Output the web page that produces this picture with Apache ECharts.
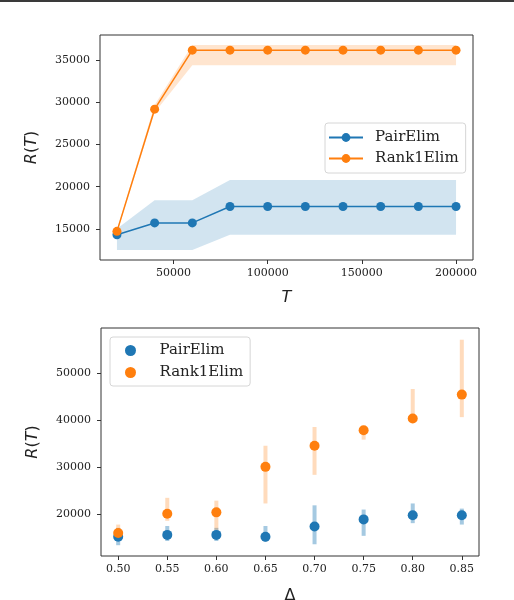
<!DOCTYPE html>
<html>
<head>
<meta charset="utf-8">
<script src="https://cdn.jsdelivr.net/npm/echarts@6/dist/echarts.min.js"></script>
<style>
  html, body { margin: 0; padding: 0; background: #fff; }
  #wrap { position: relative; width: 514px; height: 600px; }
  #topline { position: absolute; left: 0; top: 0; width: 514px; height: 2px; background: #3a3a3a; }
  #chart { position: absolute; left: 0; top: 0; width: 514px; height: 600px; }
</style>
</head>
<body>
<div id="wrap">
  <div id="chart"></div>
  <div id="topline"></div>
</div>
<script>
// 上图：R(T) 随 T 变化
var T = [20000, 40000, 60000, 80000, 100000, 120000, 140000, 160000, 180000, 200000];
var pairMean = [14300, 15700, 15700, 17650, 17650, 17650, 17650, 17650, 17650, 17650];
var pairLow = [12500, 12500, 12500, 14300, 14300, 14300, 14300, 14300, 14300, 14300];
var pairHigh = [15000, 18400, 18400, 20800, 20800, 20800, 20800, 20800, 20800, 20800];
var rankMean = [14700, 29200, 36200, 36200, 36200, 36200, 36200, 36200, 36200, 36200];
var rankLow = [14500, 28800, 34400, 34400, 34400, 34400, 34400, 34400, 34400, 34400];
var rankHigh = [14900, 29700, 36800, 36800, 36800, 36800, 36800, 36800, 36800, 36800];
var xTicks1 = [50000, 100000, 150000, 200000];
var yTicks1 = [15000, 20000, 25000, 30000, 35000];

// 下图：R(T) 随 Δ 变化
var delta = [0.50, 0.55, 0.60, 0.65, 0.70, 0.75, 0.80, 0.85];
var pairMean2 = [15100, 15500, 15500, 15100, 17300, 18800, 19700, 19700];
var pairLo2 = [13300, 14200, 14200, 14000, 13500, 15300, 18000, 17700];
var pairHi2 = [17000, 17400, 17000, 17400, 21800, 20900, 22200, 21100];
var rankMean2 = [15900, 20000, 20300, 30000, 34500, 37800, 40300, 45400];
var rankLo2 = [14500, 18500, 16600, 22200, 28300, 35800, 39800, 40600];
var rankHi2 = [17700, 23400, 22800, 34500, 38500, 38400, 46600, 57100];
var xTicks2 = [0.50, 0.55, 0.60, 0.65, 0.70, 0.75, 0.80, 0.85];
var yTicks2 = [20000, 30000, 40000, 50000];

var names = ['PairElim', 'Rank1Elim'];
var blue = '#1f77b4';
var orange = '#ff7f0e';
var serif = 'DejaVu Serif';

var zip = function(xs, ys) {
	return xs.map(function(x, i) { return [x, ys[i]]; });
};

// 阴影带（一个多边形）
var bandSeries = function(xs, lo, hi, color) {
	return {
		type: 'custom',
		xAxisIndex: 0,
		yAxisIndex: 0,
		silent: true,
		data: xs.map(function(x, i) { return [x, lo[i], hi[i]]; }),
		encode: { x: 0, y: [1, 2] },
		renderItem: function(params, api) {
			if(params.dataIndex !== 0) return null;
			var pts = [];
			for(var i = 0; i < xs.length; i++) pts.push(api.coord([xs[i], hi[i]]));
			for(var j = xs.length - 1; j >= 0; j--) pts.push(api.coord([xs[j], lo[j]]));
			return { type: 'polygon', shape: { points: pts }, style: { fill: color } };
		}
	};
};

// 误差线
var errSeries = function(xs, lo, hi, color) {
	return {
		type: 'custom',
		xAxisIndex: 1,
		yAxisIndex: 1,
		silent: true,
		data: xs.map(function(x, i) { return [x, lo[i], hi[i]]; }),
		encode: { x: 0, y: [1, 2] },
		renderItem: function(params, api) {
			var a = api.coord([api.value(0), api.value(1)]);
			var b = api.coord([api.value(0), api.value(2)]);
			return {
				type: 'line',
				shape: { x1: a[0], y1: a[1], x2: b[0], y2: b[1] },
				style: { stroke: color, lineWidth: 4 }
			};
		}
	};
};

var tickStyle = { length: 4, lineStyle: { color: '#333', width: 1 } };
var labelStyle = { fontFamily: serif, fontSize: 11, color: '#222' };
var axisName = {
	fontSize: 16,
	color: '#222',
	fontFamily: 'DejaVu Sans',
	rich: { i: { fontStyle: 'italic', fontSize: 16, fontFamily: 'DejaVu Sans', color: '#222' } }
};

var makeAxis = function(grid, min, max, ticks, digits, margin) {
	return {
		gridIndex: grid, type: 'value', min: min, max: max,
		axisLine: { show: false },
		splitLine: { show: false },
		axisTick: Object.assign({ show: true, inside: false, customValues: ticks }, tickStyle),
		axisLabel: Object.assign({
			customValues: ticks,
			margin: margin,
			formatter: function(v) { return digits ? v.toFixed(digits) : String(v); }
		}, labelStyle)
	};
};

var myChart = echarts.init(document.getElementById('chart'));

var xa1 = makeAxis(0, 11000, 209000, xTicks1, 0, 8);
xa1.name = '{i|T}'; xa1.nameLocation = 'middle'; xa1.nameGap = 30; xa1.nameTextStyle = axisName;
var xa2 = makeAxis(1, 0.4825, 0.8675, xTicks2, 2, 8);
xa2.name = 'Δ'; xa2.nameLocation = 'middle'; xa2.nameGap = 32; xa2.nameTextStyle = axisName;
var ya1 = makeAxis(0, 11300, 38000, yTicks1, 0, 10);
ya1.name = '{i|R}({i|T})'; ya1.nameLocation = 'middle'; ya1.nameGap = 60; ya1.nameTextStyle = axisName;
var ya2 = makeAxis(1, 11000, 59600, yTicks2, 0, 10);
ya2.name = '{i|R}({i|T})'; ya2.nameLocation = 'middle'; ya2.nameGap = 60; ya2.nameTextStyle = axisName;

var option = {
	animation: false,
	backgroundColor: '#fff',
	grid: [{
		left: 100, top: 35, width: 373, height: 225, outerBoundsMode: 'none',
		show: true, borderColor: '#333', borderWidth: 1, backgroundColor: 'transparent'
	}, {
		left: 101, top: 328, width: 378, height: 228, outerBoundsMode: 'none',
		show: true, borderColor: '#333', borderWidth: 1, backgroundColor: 'transparent'
	}],
	xAxis: [xa1, xa2],
	yAxis: [ya1, ya2],
	legend: [{
		data: names,
		orient: 'vertical',
		left: 325, top: 123,
		itemWidth: 34, itemHeight: 11, itemGap: 6,
		backgroundColor: '#fff',
		borderColor: '#d6d6d6', borderWidth: 1, borderRadius: 3,
		padding: [7, 7, 7, 3],
		selectedMode: false,
		textStyle: { fontFamily: serif, fontSize: 15, color: '#222', padding: [0, 0, 0, 7] }
	}, {
		data: [{ name: 'PairElim', icon: 'circle' }, { name: 'Rank1Elim', icon: 'circle' }],
		orient: 'vertical',
		left: 110, top: 337,
		itemWidth: 28, itemHeight: 11, itemGap: 7,
		backgroundColor: '#fff',
		borderColor: '#d6d6d6', borderWidth: 1, borderRadius: 3,
		padding: [6, 7, 6, 15],
		selectedMode: false,
		textStyle: { fontFamily: serif, fontSize: 15, color: '#222', padding: [0, 0, 0, 10] }
	}],
	series: [
		bandSeries(T, pairLow, pairHigh, 'rgba(31,119,180,0.2)'),
		{
			name: 'PairElim', type: 'line', xAxisIndex: 0, yAxisIndex: 0,
			data: zip(T, pairMean),
			symbol: 'circle', symbolSize: 9,
			lineStyle: { color: blue, width: 1.5 },
			itemStyle: { color: blue }
		},
		bandSeries(T, rankLow, rankHigh, 'rgba(255,127,14,0.2)'),
		{
			name: 'Rank1Elim', type: 'line', xAxisIndex: 0, yAxisIndex: 0,
			data: zip(T, rankMean),
			symbol: 'circle', symbolSize: 9,
			lineStyle: { color: orange, width: 1.5 },
			itemStyle: { color: orange }
		},
		errSeries(delta, pairLo2, pairHi2, 'rgba(31,119,180,0.4)'),
		{
			name: 'PairElim', type: 'scatter', xAxisIndex: 1, yAxisIndex: 1,
			data: zip(delta, pairMean2),
			symbol: 'circle', symbolSize: 10,
			itemStyle: { color: blue, opacity: 1 }
		},
		errSeries(delta, rankLo2, rankHi2, 'rgba(255,127,14,0.28)'),
		{
			name: 'Rank1Elim', type: 'scatter', xAxisIndex: 1, yAxisIndex: 1,
			data: zip(delta, rankMean2),
			symbol: 'circle', symbolSize: 10,
			itemStyle: { color: orange, opacity: 1 }
		}
	]
};

myChart.setOption(option);
</script>
</body>
</html>
